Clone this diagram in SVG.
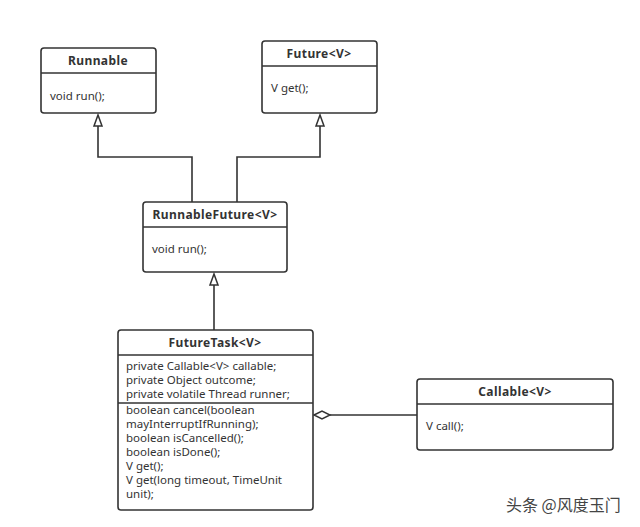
<svg xmlns="http://www.w3.org/2000/svg" width="640" height="527" viewBox="0 0 640 527">
<style>
.box{fill:#fff;stroke:#333;stroke-width:1.6}
.div{stroke:#333;stroke-width:1.6}
.t{font-family:"Noto Sans","DejaVu Sans",sans-serif;font-size:11.5px;fill:#333}
.b{font-weight:bold;text-anchor:middle;font-size:12px;letter-spacing:0.4px}
.c{fill:none;stroke:#333;stroke-width:1.6}
.h{fill:#fff;stroke:#333;stroke-width:1.5}
</style>
<rect width="640" height="527" fill="#fff"/>
<g id="connectors">
<path class="c" d="M98,124 V157 H192 V202"/>
<path class="c" d="M320,124 V157 H237 V202"/>
<path class="c" d="M214,283 V330"/>
<path class="c" d="M330,415 H417"/>
<path class="h" d="M314,415 L322,411 L330,415 L322,419 Z"/>
<path class="h" d="M94,126 L98,115 L102,126 Z"/>
<path class="h" d="M316,126 L320,115 L324,126 Z"/>
<path class="h" d="M210,285 L214,274 L218,285 Z"/>
</g>
<g id="runnable">
<rect class="box" x="41" y="48" width="115" height="65" rx="3"/>
<line class="div" x1="41" y1="73" x2="156" y2="73"/>
<text class="t b" x="98" y="65">Runnable</text>
<text class="t" x="50" y="100">void run();</text>
</g>
<g id="future">
<rect class="box" x="262" y="41" width="115" height="72" rx="3"/>
<line class="div" x1="262" y1="66" x2="377" y2="66"/>
<text class="t b" x="319" y="58">Future&lt;V&gt;</text>
<text class="t" x="271" y="92">V get();</text>
</g>
<g id="runnablefuture">
<rect class="box" x="143" y="202" width="144" height="70" rx="3"/>
<line class="div" x1="143" y1="227" x2="287" y2="227"/>
<text class="t b" x="215" y="219">RunnableFuture&lt;V&gt;</text>
<text class="t" x="152" y="253">void run();</text>
</g>
<g id="futuretask">
<rect class="box" x="118" y="330" width="195" height="180" rx="3"/>
<line class="div" x1="118" y1="355" x2="313" y2="355"/>
<line class="div" x1="118" y1="403" x2="313" y2="403"/>
<text class="t b" x="215" y="347">FutureTask&lt;V&gt;</text>
<text class="t" x="126" y="370">private Callable&lt;V&gt; callable;</text>
<text class="t" x="126" y="384">private Object outcome;</text>
<text class="t" x="126" y="398">private volatile Thread runner;</text>
<text class="t" x="126" y="414">boolean cancel(boolean</text>
<text class="t" x="126" y="428">mayInterruptIfRunning);</text>
<text class="t" x="126" y="442">boolean isCancelled();</text>
<text class="t" x="126" y="456">boolean isDone();</text>
<text class="t" x="126" y="470">V get();</text>
<text class="t" x="126" y="484">V get(long timeout, TimeUnit</text>
<text class="t" x="126" y="498">unit);</text>
</g>
<g id="callable">
<rect class="box" x="417" y="379" width="196" height="71" rx="3"/>
<line class="div" x1="417" y1="404" x2="613" y2="404"/>
<text class="t b" x="515" y="396">Callable&lt;V&gt;</text>
<text class="t" x="426" y="430">V call();</text>
</g>
<text x="506" y="511" font-family="Noto Sans CJK SC, sans-serif" font-size="16" fill="#444">头条 @风度玉门</text>
</svg>
